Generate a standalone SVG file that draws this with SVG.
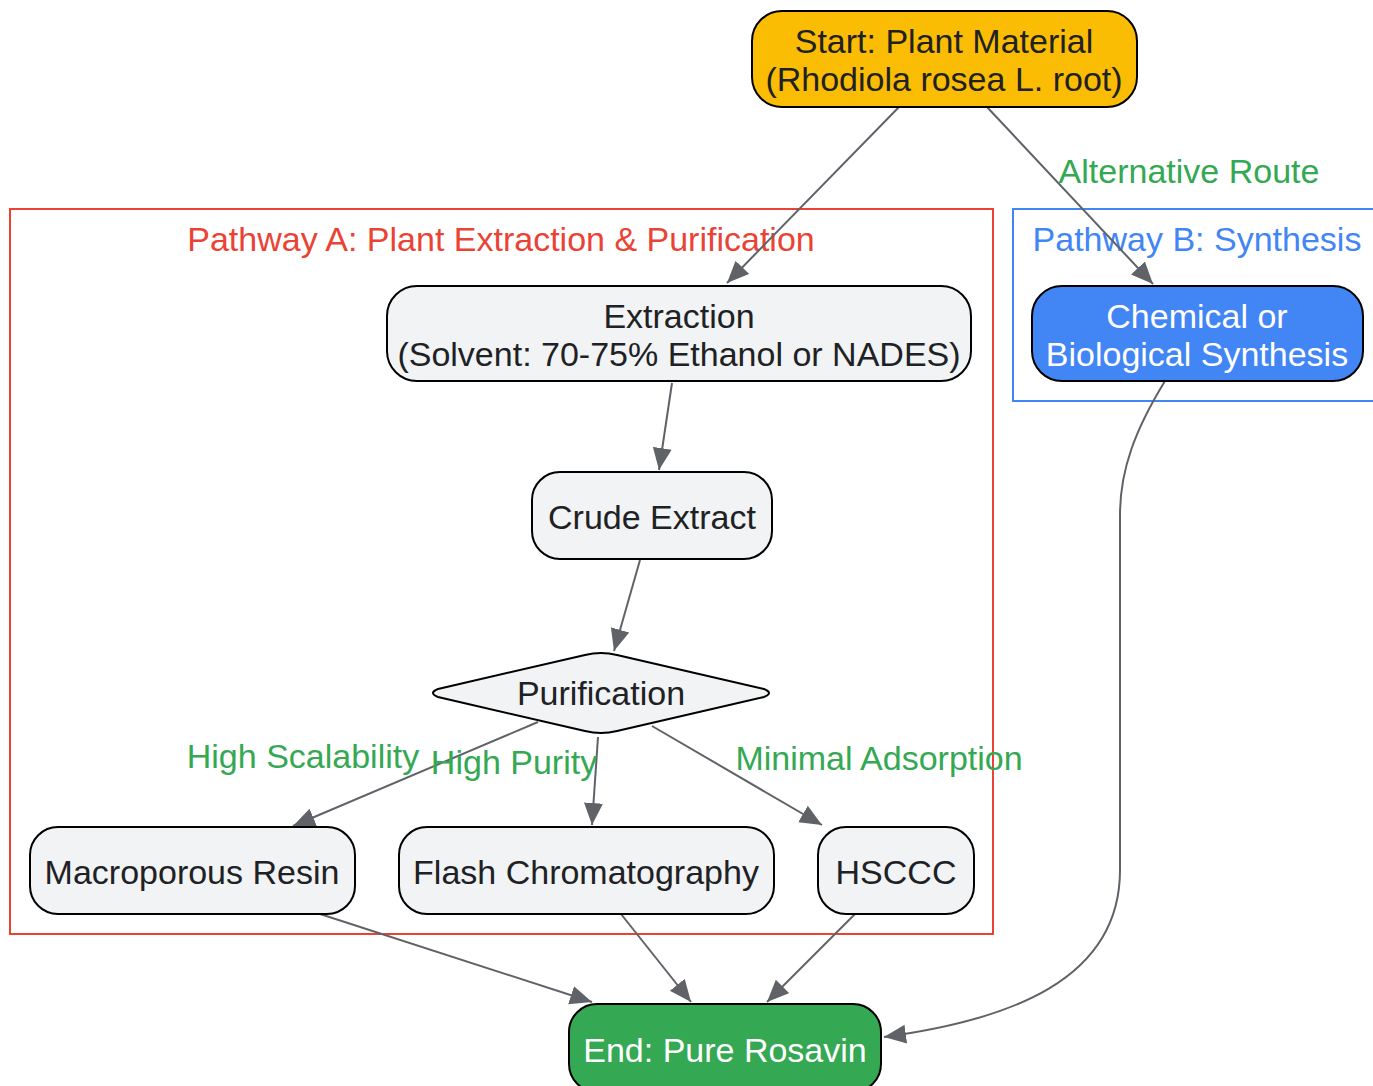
<svg xmlns="http://www.w3.org/2000/svg" width="1373" height="1086" viewBox="0 0 1373 1086">
<defs>
<marker id="ah" markerUnits="userSpaceOnUse" markerWidth="23" markerHeight="20" refX="22" refY="9.5" orient="auto">
<path d="M0,0 L22,9.5 L0,19 z" fill="#5f6368"/>
</marker>
<style>
text{font-family:"Liberation Sans",Arial,sans-serif;font-size:34px;text-anchor:middle;}
.n{stroke:#000;stroke-width:2;}
.g{fill:#f1f3f4;}
.t{fill:#202124;}
.w{fill:#fff;}
.el{fill:#34a853;}
.e{fill:none;stroke:#5f6368;stroke-width:2;marker-end:url(#ah);}
</style>
</defs>
<rect width="1373" height="1086" fill="#fff"/>
<g id="clusterA">
<rect x="10" y="209" width="983" height="725" fill="none" stroke="#ea4335" stroke-width="2"/>
<text x="501" y="251" fill="#ea4335">Pathway A: Plant Extraction &amp; Purification</text>
</g>
<g id="clusterB">
<rect x="1013" y="209" width="372" height="192" fill="none" stroke="#4285f4" stroke-width="2"/>
<text x="1197" y="251" fill="#4285f4">Pathway B: Synthesis</text>
</g>
<g id="edges">
<line class="e" x1="899" y1="107" x2="727" y2="283"/>
<line class="e" x1="987" y1="107" x2="1153" y2="284"/>
<line class="e" x1="672" y1="383" x2="659" y2="470"/>
<line class="e" x1="640" y1="560" x2="614" y2="651"/>
<line class="e" x1="538" y1="722" x2="293" y2="826"/>
<line class="e" x1="598" y1="737" x2="592" y2="825"/>
<line class="e" x1="652" y1="726" x2="822" y2="825"/>
<line class="e" x1="320" y1="914" x2="592" y2="1002"/>
<line class="e" x1="621" y1="914" x2="691" y2="1002"/>
<line class="e" x1="855" y1="914" x2="767" y2="1002"/>
<path class="e" d="M1165,381 C1135,430 1120,470 1120,515 L1120,870 C1120,980 1010,1020 884,1037"/>
<text class="el" x="1189" y="183">Alternative Route</text>
<text class="el" x="303" y="768">High Scalability</text>
<text class="el" x="514" y="774">High Purity</text>
<text class="el" x="879" y="770">Minimal Adsorption</text>
</g>
<g id="start">
<rect class="n" x="752" y="11" width="385" height="96" rx="30" fill="#fbbc04"/>
<text class="t" x="944" y="53">Start: Plant Material</text>
<text class="t" x="944" y="91">(Rhodiola rosea L. root)</text>
</g>
<g id="extraction">
<rect class="n g" x="387" y="286" width="584" height="95" rx="30"/>
<text class="t" x="679" y="328">Extraction</text>
<text class="t" x="679" y="366">(Solvent: 70-75% Ethanol or NADES)</text>
</g>
<g id="synthesis">
<rect class="n" x="1032" y="286" width="331" height="95" rx="30" fill="#4285f4"/>
<text class="w" x="1197" y="328">Chemical or</text>
<text class="w" x="1197" y="366">Biological Synthesis</text>
</g>
<g id="crude">
<rect class="n g" x="532" y="472" width="240" height="87" rx="28"/>
<text class="t" x="652" y="529">Crude Extract</text>
</g>
<g id="purification">
<path class="n g" d="M438,689 L585,655 Q601,651 617,655 L764,689 Q774,693 764,697 L617,731 Q601,735 585,731 L438,697 Q428,693 438,689 Z"/>
<text class="t" x="601" y="705">Purification</text>
</g>
<g id="resin">
<rect class="n g" x="30" y="827" width="325" height="87" rx="28"/>
<text class="t" x="192" y="884">Macroporous Resin</text>
</g>
<g id="flash">
<rect class="n g" x="399" y="827" width="375" height="87" rx="28"/>
<text class="t" x="586" y="884">Flash Chromatography</text>
</g>
<g id="hsccc">
<rect class="n g" x="818" y="827" width="156" height="87" rx="28"/>
<text class="t" x="896" y="884">HSCCC</text>
</g>
<g id="end">
<rect class="n" x="569" y="1004" width="312" height="88" rx="28" fill="#34a853"/>
<text class="w" x="725" y="1062">End: Pure Rosavin</text>
</g>
</svg>
